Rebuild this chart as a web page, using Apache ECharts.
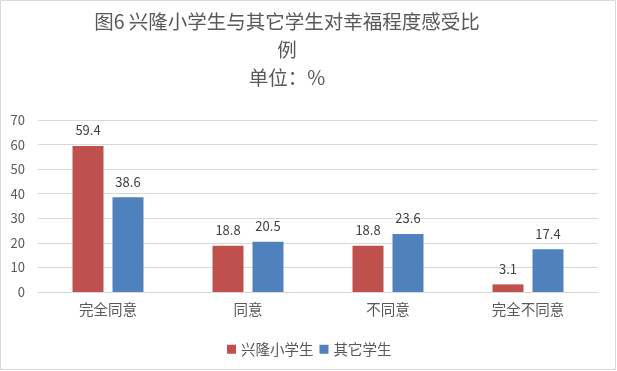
<!DOCTYPE html>
<html><head><meta charset="utf-8">
<script src="https://cdn.jsdelivr.net/npm/echarts@6/dist/echarts.min.js"></script>
<style>html,body{margin:0;padding:0;background:#fff}#c{width:617px;height:371px}</style>
</head><body><div id="c"></div>
<script>
const categories = ['完全同意', '同意', '不同意', '完全不同意'];
const seriesNames = ['兴隆小学生', '其它学生'];
const xinglong = [59.4, 18.8, 18.8, 3.1];
const others = [38.6, 20.5, 23.6, 17.4];
const yTicks = [0, 10, 20, 30, 40, 50, 60, 70];

const font = "'Microsoft YaHei','Noto Sans CJK SC',sans-serif";
const chart = echarts.init(document.getElementById('c'), null, {renderer: 'canvas'});
const lbl = {show: true, position: 'top', distance: 9, fontSize: 13, color: '#404040', fontFamily: font};
chart.setOption({
  animation: false,
  graphic: [{type: 'rect', shape: {x: 0.5, y: 0.5, width: 615, height: 369}, style: {fill: 'none', stroke: '#d9d9d9', lineWidth: 1}, silent: true}],
  title: {
    text: '图6 兴隆小学生与其它学生对幸福程度感受比\n例\n单位：%',
    left: 282, top: 3, textAlign: 'center',
    textStyle: {fontSize: 19.5, fontWeight: 'normal', color: '#595959', lineHeight: 28, fontFamily: font}
  },
  legend: {
    data: seriesNames, top: 337, left: 222, itemWidth: 9, itemHeight: 9, itemGap: 6,
    icon: 'rect', textStyle: {fontSize: 14.5, color: '#595959', fontFamily: font}
  },
  grid: {left: 38, right: 19, top: 120, bottom: 79, containLabel: false},
  xAxis: {
    type: 'category', data: categories,
    axisLine: {lineStyle: {color: '#d9d9d9'}}, axisTick: {show: false},
    axisLabel: {fontSize: 14.5, color: '#595959', margin: 10, fontFamily: font}
  },
  yAxis: {
    type: 'value', min: yTicks[0], max: yTicks[yTicks.length - 1], interval: 10,
    axisLine: {show: false}, axisTick: {show: false},
    axisLabel: {fontSize: 13, color: '#595959', margin: 13, fontFamily: font},
    splitLine: {lineStyle: {color: '#d9d9d9'}}
  },
  series: [
    {name: seriesNames[0], type: 'bar', data: xinglong, barWidth: 31, barGap: '29%', itemStyle: {color: '#C0504D'}, label: lbl},
    {name: seriesNames[1], type: 'bar', data: others, barWidth: 31, itemStyle: {color: '#4F81BD'}, label: lbl}
  ]
});
</script></body></html>
